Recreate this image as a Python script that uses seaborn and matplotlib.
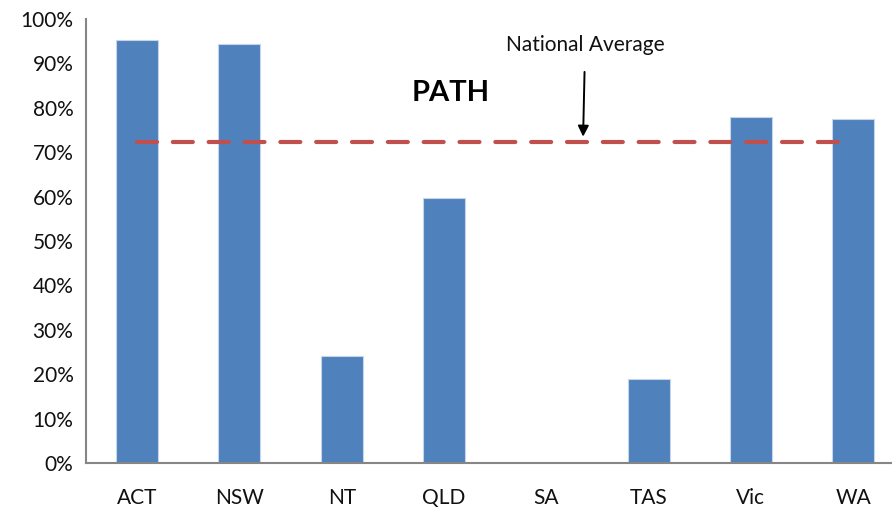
import matplotlib
matplotlib.use("Agg")
import matplotlib.pyplot as plt
from matplotlib.ticker import PercentFormatter
import seaborn as sns
import pandas as pd

states = ["ACT", "NSW", "NT", "QLD", "SA", "TAS", "Vic", "WA"]
path_rate = [95.2, 94.3, 24.1, 59.7, 0.0, 18.9, 77.9, 77.5]
national_average = 72.2

sns.set_theme(style="white")
plt.rcParams["font.family"] = ["Lato", "DejaVu Sans"]

df = pd.DataFrame({"state": states, "rate": path_rate})

fig = plt.figure(figsize=(8.92, 5.07), dpi=100)
ax = fig.add_axes([86 / 892, 44 / 507, (892 - 86) / 892, 444 / 507])

sns.barplot(data=df, x="state", y="rate", color="#4F81BD", saturation=1,
            width=0.41, ax=ax, edgecolor="#C6D5EA", linewidth=0.8)

ax.plot([0, 6.85], [national_average, national_average], color="#C0504D",
        linewidth=3, linestyle=(0, (4.8, 3.8)), dash_capstyle="round")

ax.set_ylim(0, 100)
ax.set_xlim(-0.5, 7.38)
ax.set_yticks(range(0, 101, 10))
ax.yaxis.set_major_formatter(PercentFormatter(decimals=0))
ax.set_xlabel("")
ax.set_ylabel("")
ax.tick_params(axis="both", labelsize=15, colors="#111111", length=0)
ax.tick_params(axis="x", pad=18)
ax.tick_params(axis="y", pad=9)

for side in ("top", "right"):
    ax.spines[side].set_visible(False)
for side in ("left", "bottom"):
    ax.spines[side].set_color("#868686")
    ax.spines[side].set_linewidth(1.5)

ax.text(3.07, 83.3, "PATH", fontsize=21, fontweight="bold", ha="center",
        va="center", color="black")
ax.annotate("National Average", xy=(4.36, 73.5), xytext=(4.38, 94.2),
            ha="center", va="center", fontsize=15, color="#111111",
            arrowprops=dict(arrowstyle="-|>", color="black", lw=1.4,
                            mutation_scale=16, shrinkA=10, shrinkB=0))

fig.savefig("out.png", dpi=100)
